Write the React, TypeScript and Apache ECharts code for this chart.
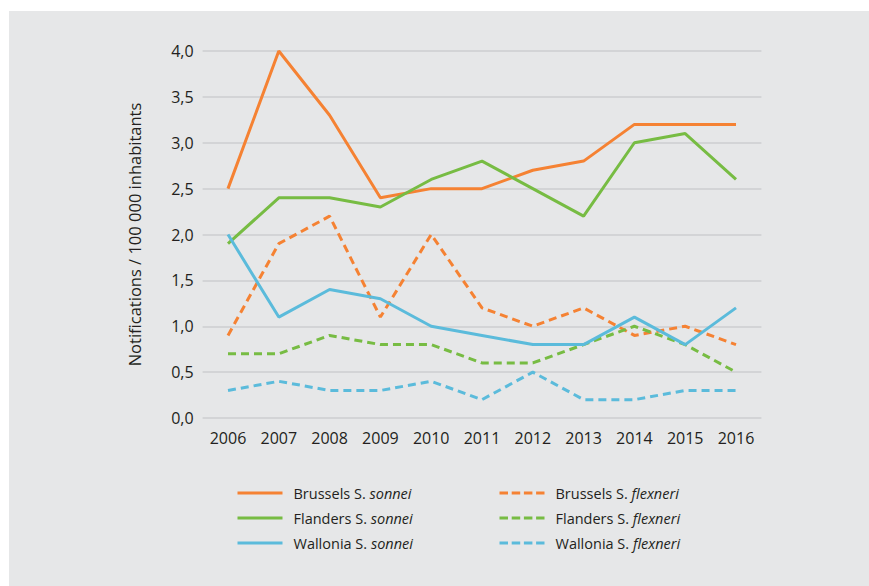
import React, { useEffect, useRef } from "react";
import * as echarts from "echarts";

const years = ["2006", "2007", "2008", "2009", "2010", "2011", "2012", "2013", "2014", "2015", "2016"];
const brusselsSonnei = [2.5, 4.0, 3.3, 2.4, 2.5, 2.5, 2.7, 2.8, 3.2, 3.2, 3.2];
const flandersSonnei = [1.9, 2.4, 2.4, 2.3, 2.6, 2.8, 2.5, 2.2, 3.0, 3.1, 2.6];
const walloniaSonnei = [2.0, 1.1, 1.4, 1.3, 1.0, 0.9, 0.8, 0.8, 1.1, 0.8, 1.2];
const brusselsFlexneri = [0.9, 1.9, 2.2, 1.1, 2.0, 1.2, 1.0, 1.2, 0.9, 1.0, 0.8];
const flandersFlexneri = [0.7, 0.7, 0.9, 0.8, 0.8, 0.6, 0.6, 0.8, 1.0, 0.8, 0.5];
const walloniaFlexneri = [0.3, 0.4, 0.3, 0.3, 0.4, 0.2, 0.5, 0.2, 0.2, 0.3, 0.3];

const seriesNames = [
  "Brussels S. sonnei",
  "Flanders S. sonnei",
  "Wallonia S. sonnei",
  "Brussels S. flexneri",
  "Flanders S. flexneri",
  "Wallonia S. flexneri",
];
const seriesData = [brusselsSonnei, flandersSonnei, walloniaSonnei, brusselsFlexneri, flandersFlexneri, walloniaFlexneri];
const seriesColors = ["#f58233", "#77bc43", "#5bbbdb", "#f58233", "#77bc43", "#5bbbdb"];
const seriesDashed = [false, false, false, true, true, true];
const axisTitle = "Notifications / 100 000 inhabitants";

const FONT = "'Open Sans', 'Noto Sans', sans-serif";
const TEXT = "#231f20";

export default function App() {
  const ref = useRef<HTMLDivElement>(null);
  useEffect(() => {
    if (!ref.current) return;
    const chart = echarts.init(ref.current, undefined, { renderer: "svg" });
    const legendItem = (i: number) => ({
      name: seriesNames[i],
      lineStyle: {
        width: 3,
        color: seriesColors[i],
        type: seriesDashed[i] ? [8.5, 3.7] : "solid",
      },
    });
    const legendCommon = {
      orient: "vertical",
      itemWidth: 45,
      itemHeight: 14,
      itemGap: 9,
      top: 480,
      itemStyle: { opacity: 0, color: "transparent", borderWidth: 0 },
      formatter: (name: string) => name.replace(/S\. (\w+)/, "S. {i|$1}"),
      textStyle: {
        fontFamily: FONT,
        fontSize: 14.5,
        lineHeight: 16,
        color: TEXT,
        padding: [0, 0, 0, 6],
        rich: {
          i: { fontFamily: FONT, fontSize: 14.5, lineHeight: 16, color: TEXT, fontStyle: "italic" },
        },
      },
    };
    chart.setOption({
      animation: false,
      backgroundColor: "#ffffff",
      graphic: [
        {
          type: "rect",
          z: -10,
          silent: true,
          shape: { x: 9, y: 11, width: 860, height: 575 },
          style: { fill: "#e6e7e8" },
        },
      ],
      grid: { left: 202.6, right: 107.6, top: 51, bottom: 168 },
      legend: [
        { ...legendCommon, left: 231, data: [0, 1, 2].map(legendItem) },
        { ...legendCommon, left: 493, data: [3, 4, 5].map(legendItem) },
      ],
      xAxis: {
        type: "category",
        data: years,
        boundaryGap: true,
        axisLine: { show: false },
        axisTick: { show: false },
        axisLabel: { fontFamily: FONT, fontSize: 16, color: TEXT, margin: 12 },
      },
      yAxis: {
        type: "value",
        min: 0,
        max: 4,
        interval: 0.5,
        name: axisTitle,
        nameLocation: "middle",
        nameGap: 60,
        nameTextStyle: { fontFamily: FONT, fontSize: 16.5, color: TEXT },
        axisLine: { show: false },
        axisTick: { show: false },
        splitLine: { lineStyle: { color: "#d3d4d6", width: 2 } },
        axisLabel: {
          fontFamily: FONT,
          fontSize: 16,
          color: TEXT,
          margin: 9,
          formatter: (v: number) => v.toFixed(1).replace(".", ","),
        },
      },
      series: seriesNames.map((name, i) => ({
        name,
        type: "line",
        data: seriesData[i],
        symbol: "none",
        showSymbol: false,
        color: seriesColors[i],
        lineStyle: {
          width: 3,
          color: seriesColors[i],
          type: seriesDashed[i] ? [8, 5] : "solid",
        },
        z: seriesDashed[i] ? 2 : 3,
      })),
    });
    return () => chart.dispose();
  }, []);
  return (
    <div
      ref={ref}
      style={{ position: "fixed", left: 0, top: 0, width: 869, height: 586 }}
    />
  );
}
